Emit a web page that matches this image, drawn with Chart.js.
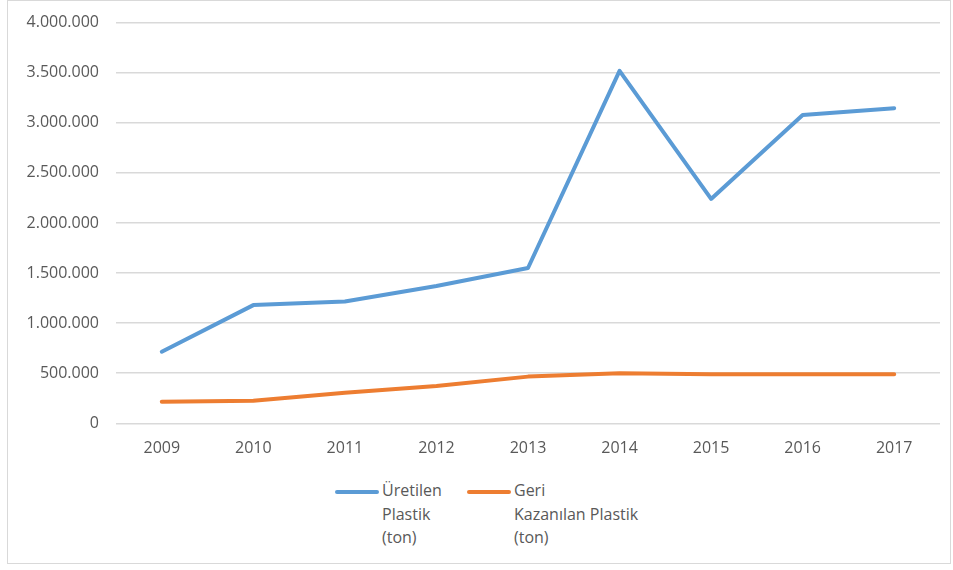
<!DOCTYPE html>
<html>
<head>
<meta charset="utf-8">
<script src="https://cdn.jsdelivr.net/npm/chart.js@4"></script>
<style>
  html, body { margin: 0; padding: 0; background: #fff; }
  body { width: 953px; height: 570px; position: relative; overflow: hidden; font-family: "Open Sans", "Noto Sans", sans-serif; }
  #frame { position: absolute; left: 7px; top: 0px; width: 944px; height: 564px; border: 1px solid #D9D9D9; box-sizing: border-box; }
  #wrap { position: absolute; left: 0; top: -4px; width: 953px; height: 470px; }
  #legend { position: absolute; left: 0; top: 479px; width: 953px; height: 80px; }
  .item { position: absolute; top: 0; display: flex; align-items: flex-start; }
  .swatch { width: 44px; height: 4px; border-radius: 2px; margin-top: 11px; margin-right: 3px; }
  .txt { font-size: 16px; line-height: 23.5px; color: #595959; }
</style>
</head>
<body>
<div id="frame"></div>
<div id="wrap"><canvas id="c" width="953" height="470"></canvas></div>
<div id="legend"></div>
<script>
const years = ['2009','2010','2011','2012','2013','2014','2015','2016','2017'];
const produced = [715000, 1180000, 1215000, 1370000, 1550000, 3518000, 2240000, 3078000, 3145000];
const recovered = [216000, 226000, 306000, 372000, 466000, 500000, 490000, 490000, 490000];
const producedLabel = ['Üretilen', 'Plastik', '(ton)'];
const recoveredLabel = ['Geri', 'Kazanılan Plastik', '(ton)'];
const yTicks = [0, 500000, 1000000, 1500000, 2000000, 2500000, 3000000, 3500000, 4000000];

const BLUE = '#5B9BD5', ORANGE = '#ED7D31';
const fmt = v => v === 0 ? '0' : v.toString().replace(/\B(?=(\d{3})+(?!\d))/g, '.');

const chart = new Chart(document.getElementById('c'), {
  type: 'line',
  data: {
    labels: years,
    datasets: [
      { label: producedLabel.join(' '), lines: producedLabel, data: produced, borderColor: BLUE, backgroundColor: BLUE, borderWidth: 4, pointRadius: 0, tension: 0, borderCapStyle: 'round', borderJoinStyle: 'round' },
      { label: recoveredLabel.join(' '), lines: recoveredLabel, data: recovered, borderColor: ORANGE, backgroundColor: ORANGE, borderWidth: 4, pointRadius: 0, tension: 0, borderCapStyle: 'round', borderJoinStyle: 'round' }
    ]
  },
  options: {
    responsive: false,
    animation: false,
    layout: { padding: { top: 21, right: 13, left: 0, bottom: 0 } },
    plugins: { legend: { display: false }, tooltip: { enabled: false } },
    scales: {
      x: {
        offset: true,
        grid: { display: false, drawTicks: false },
        border: { display: false },
        ticks: { color: '#595959', font: { family: '"Open Sans", "Noto Sans", sans-serif', size: 16 }, padding: 16, maxRotation: 0 },
        afterFit: s => { s.height = 42.7; }
      },
      y: {
        min: 0, max: 4000000,
        afterBuildTicks: s => { s.ticks = yTicks.map(v => ({ value: v })); },
        grid: { color: '#D9D9D9', lineWidth: 1.5, drawTicks: false },
        border: { display: false },
        ticks: { color: '#595959', font: { family: '"Open Sans", "Noto Sans", sans-serif', size: 16 }, padding: 17, callback: v => fmt(v) },
        afterFit: s => { s.width = 116; }
      }
    }
  }
});

const legend = document.getElementById('legend');
const lefts = [335, 467];
chart.data.datasets.forEach((ds, i) => {
  const item = document.createElement('div');
  item.className = 'item';
  item.style.left = lefts[i] + 'px';
  const sw = document.createElement('div');
  sw.className = 'swatch';
  sw.style.background = ds.borderColor;
  const t = document.createElement('div');
  t.className = 'txt';
  t.innerHTML = ds.lines.join('<br>');
  item.appendChild(sw); item.appendChild(t);
  legend.appendChild(item);
});
</script>
</body>
</html>
